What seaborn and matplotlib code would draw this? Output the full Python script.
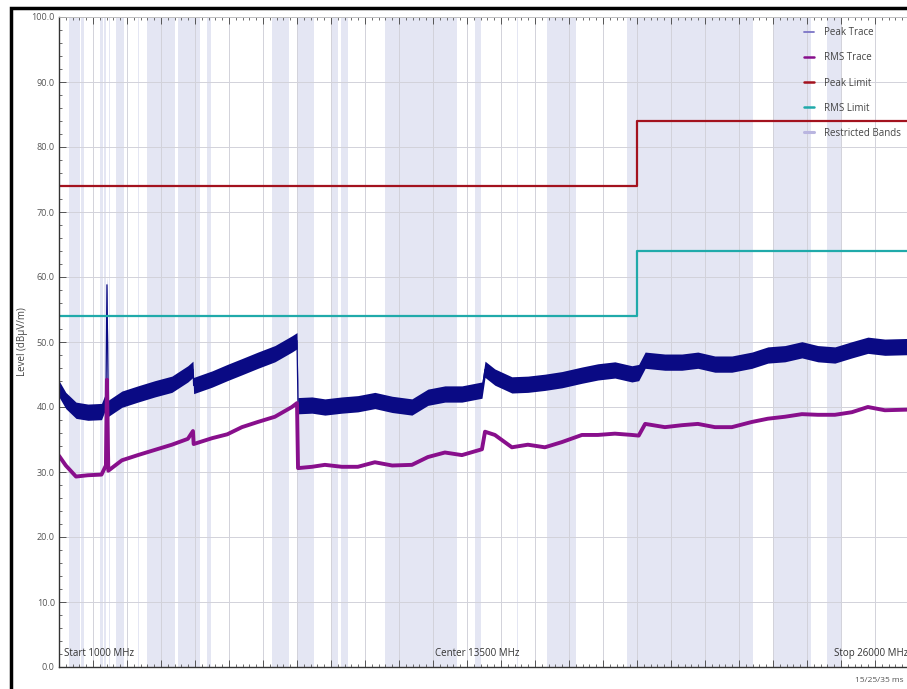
import numpy as np
import pandas as pd
import matplotlib.pyplot as plt
from matplotlib.lines import Line2D
from matplotlib.patches import Rectangle
from matplotlib.ticker import MultipleLocator, NullFormatter, FormatStrFormatter
import seaborn as sns

sns.set_theme(style="white")
plt.rcParams['font.family'] = ['Open Sans', 'DejaVu Sans']

freq_mhz = [1000, 1200, 1500, 1850, 2250, 2380, 2410, 2450, 2850, 3320,
            3820, 4320, 4790, 4940, 4960, 5500, 5950, 6380, 6850, 7350,
            7850, 8000, 8030, 8440, 8820, 9320, 9790, 10290, 10800, 11380,
            11850, 12350, 12850, 13440, 13530, 13820, 14320, 14790, 15290, 15790,
            16380, 16850, 17350, 17850, 18050, 18240, 18820, 19320, 19790, 20290,
            20790, 21380, 21850, 22350, 22850, 23320, 23820, 24320, 24790, 25290,
            26000]
peak_db = [42.8, 41.0, 39.5, 39.2, 39.3, 41.0, 58.8, 39.8, 41.2, 42.0,
           42.8, 43.5, 45.1, 45.8, 43.3, 44.3, 45.3, 46.2, 47.2, 48.2,
           49.7, 50.2, 40.2, 40.3, 40.0, 40.3, 40.5, 41.0, 40.4, 40.0,
           41.5, 42.0, 42.0, 42.6, 45.8, 44.6, 43.4, 43.5, 43.8, 44.2,
           44.9, 45.4, 45.7, 45.1, 45.3, 47.2, 46.9, 46.9, 47.2, 46.6,
           46.6, 47.2, 48.0, 48.2, 48.8, 48.2, 48.0, 48.8, 49.5, 49.2,
           49.3]
rms_db = [32.5, 31.0, 29.3, 29.5, 29.6, 31.0, 44.2, 30.2, 31.8, 32.6,
          33.4, 34.2, 35.1, 36.3, 34.3, 35.2, 35.8, 36.9, 37.7, 38.5,
          40.0, 40.6, 30.6, 30.8, 31.1, 30.8, 30.8, 31.5, 31.0, 31.1,
          32.3, 33.0, 32.6, 33.5, 36.2, 35.7, 33.8, 34.2, 33.8, 34.6,
          35.7, 35.7, 35.9, 35.7, 35.6, 37.4, 36.9, 37.2, 37.4, 36.9,
          36.9, 37.7, 38.2, 38.5, 38.9, 38.8, 38.8, 39.2, 40.0, 39.5,
          39.6]

# limit lines
limit_freq = [1000, 18000, 26000]
peak_limit = [74, 84, 84]
rms_limit = [54, 64, 64]

# restricted bands (MHz)
band_start = [1300, 1435, 1645.5, 1660, 1718.8, 2200, 2310, 2483.5, 2690, 3260,
              3332, 3345.8, 3600, 4500, 5350, 7250, 8025, 9000, 9300, 10600,
              13250, 14470, 15350, 17700, 22010, 23600]
band_stop = [1427, 1626.5, 1646.5, 1710, 1722.2, 2300, 2390, 2500, 2900, 3267,
             3339, 3358, 4400, 5150, 5460, 7750, 8500, 9200, 9500, 12700,
             13400, 14500, 16200, 21400, 23120, 24000]

traces = pd.DataFrame({"freq": freq_mhz, "peak": peak_db, "rms": rms_db})
limits = pd.DataFrame({"freq": limit_freq, "peak": peak_limit, "rms": rms_limit})

PEAK_HALF = 1.25
c_peak = "#0a0a84"
c_rms = "#880f8c"
c_plim = "#a3121e"
c_rlim = "#20aaaa"
c_band = "#e4e6f3"

fig = plt.figure(figsize=(9.07, 6.89), dpi=100)
fig.patch.set_facecolor("white")
ax = fig.add_axes([59 / 907, 22 / 689, 850 / 907, 650 / 689])
ax.set_axisbelow('line')

for s, e in zip(band_start, band_stop):
    ax.axvspan(s, e, color=c_band, lw=0, zorder=0.5)

ax.fill_between(traces["freq"], traces["peak"] - PEAK_HALF, traces["peak"] + PEAK_HALF,
                color=c_peak, lw=0, zorder=2)
sns.lineplot(data=traces, x="freq", y="peak", ax=ax, color=c_peak, lw=0.9,
             estimator=None, sort=False, zorder=2.1)
sns.lineplot(data=traces, x="freq", y="rms", ax=ax, color=c_rms, lw=2.8,
             estimator=None, sort=False, zorder=2.2)
sns.lineplot(data=limits, x="freq", y="peak", ax=ax, color=c_plim, lw=1.6,
             drawstyle="steps-post", estimator=None, sort=False, zorder=2.3)
sns.lineplot(data=limits, x="freq", y="rms", ax=ax, color=c_rlim, lw=1.6,
             drawstyle="steps-post", estimator=None, sort=False, zorder=2.3)

ax.set_xlim(1000, 26000)
ax.set_ylim(0, 100)
ax.set_xlabel("")
ax.set_ylabel("")

ax.xaxis.set_major_locator(MultipleLocator(1000))
ax.xaxis.set_minor_locator(MultipleLocator(200))
ax.xaxis.set_major_formatter(NullFormatter())
ax.yaxis.set_major_locator(MultipleLocator(10))
ax.yaxis.set_minor_locator(MultipleLocator(2))
ax.yaxis.set_major_formatter(FormatStrFormatter("%.1f"))
ax.grid(True, which="major", color="#d2d2da", lw=0.7)

ax.tick_params(axis="x", which="both", direction="in", top=True, bottom=True,
               color="#555555", labelbottom=False)
ax.tick_params(axis="x", which="major", length=5, width=0.7)
ax.tick_params(axis="x", which="minor", length=2.5, width=0.6)
ax.tick_params(axis="y", which="both", direction="in", left=True, color="#555555",
               labelsize=6.5, labelcolor="#555555", pad=3)
ax.tick_params(axis="y", which="major", length=5, width=0.7)
ax.tick_params(axis="y", which="minor", length=2.5, width=0.6)

for side in ["left", "bottom"]:
    ax.spines[side].set_color("#333333")
    ax.spines[side].set_linewidth(1.0)
ax.spines["top"].set_color("#bbbbbb")
ax.spines["top"].set_linewidth(0.6)
ax.spines["right"].set_visible(False)

txt = dict(fontsize=7, color="#333333")
ax.text(1150, 1.2, "Start 1000 MHz", ha="left", va="bottom", **txt)
ax.text(13300, 1.2, "Center 13500 MHz", ha="center", va="bottom", **txt)
ax.text(25970, 1.2, "Stop 26000 MHz", ha="right", va="bottom", **txt)
fig.text(904 / 907, 1 - 681 / 689, "15/25/35 ms", fontsize=6, color="#555555",
         ha="right", va="center")
fig.text(22 / 907, 1 - 342 / 689, "Level (dBµV/m)", rotation=90, ha="center",
         va="center", fontsize=7, color="#444444")

handles = [Line2D([], [], color="#7b74c6", lw=1.3),
           Line2D([], [], color=c_rms, lw=1.8),
           Line2D([], [], color=c_plim, lw=1.8),
           Line2D([], [], color=c_rlim, lw=1.8),
           Line2D([], [], color="#b9b5e0", lw=2.2)]
labels = ["Peak Trace", "RMS Trace", "Peak Limit", "RMS Limit", "Restricted Bands"]
ax.legend(handles, labels, loc="upper left", bbox_to_anchor=(0.872, 0.99),
          frameon=False, fontsize=7, labelcolor="#444444", handlelength=1.0,
          handletextpad=1.0, labelspacing=1.45, borderaxespad=0)

fig.add_artist(Rectangle((10.5 / 907, -0.1), 1.2, 0.1 + 1 - 7.5 / 689,
                         transform=fig.transFigure, fill=False, ec="black", lw=2.5,
                         clip_on=False))

fig.savefig("out.png", dpi=100, facecolor="white")
